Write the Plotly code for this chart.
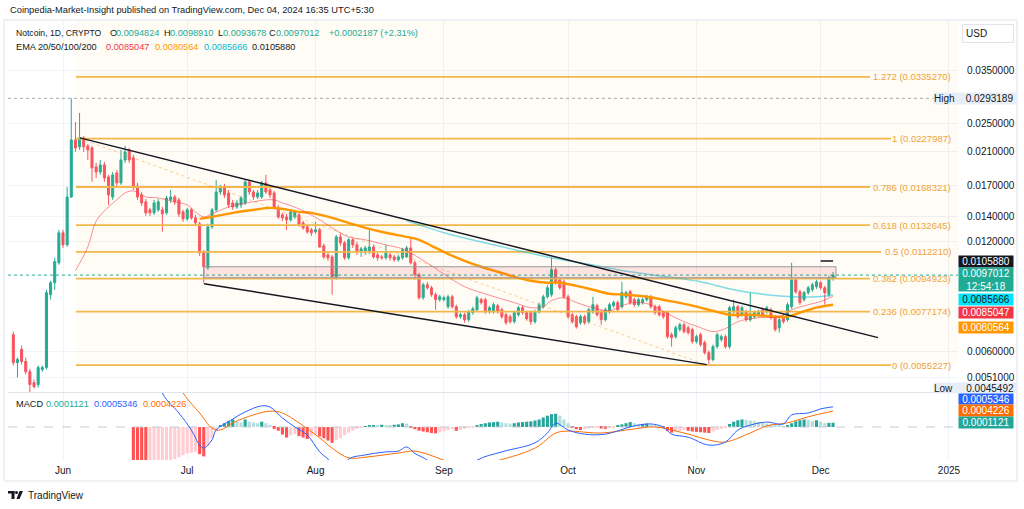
import math
import pandas as pd
import plotly.graph_objects as go

# ---------------- DATA ----------------
candle_start = "2024-05-20"
open_ = [0.00668,0.00561,0.00609,0.00565,0.00530,0.00495,0.00489,0.00537,0.00544,0.00858,
         0.00925,0.01048,0.01264,0.01172,0.01582,0.02260,0.02164,0.02289,0.02177,0.02150,
         0.01909,0.01850,0.01933,0.01793,0.01582,0.01838,0.01727,0.01994,0.02123,0.02020,
         0.01695,0.01602,0.01534,0.01459,0.01432,0.01459,0.01459,0.01432,0.01553,0.01582,
         0.01553,0.01441,0.01379,0.01459,0.01388,0.01337,0.01122,0.01016,0.01312,0.01459,
         0.01632,0.01685,0.01622,0.01524,0.01486,0.01505,0.01524,0.01738,0.01632,0.01582,
         0.01582,0.01727,0.01653,0.01622,0.01477,0.01414,0.01396,0.01371,0.01396,0.01414,
         0.01345,0.01312,0.01288,0.01272,0.01288,0.01165,0.01101,0.01087,0.00960,0.01232,
         0.01187,0.01081,0.01210,0.01172,0.01122,0.01122,0.01122,0.01157,0.01101,0.01087,
         0.01081,0.01101,0.01087,0.01068,0.01081,0.01087,0.01150,0.01048,0.00972,0.00842,
         0.00913,0.00896,0.00858,0.00832,0.00832,0.00796,0.00847,0.00796,0.00748,0.00757,
         0.00734,0.00767,0.00781,0.00832,0.00832,0.00771,0.00771,0.00801,0.00781,0.00757,
         0.00748,0.00725,0.00757,0.00791,0.00767,0.00767,0.00725,0.00771,0.00796,0.00847,
         0.00858,0.01003,0.00942,0.00930,0.00847,0.00757,0.00748,0.00720,0.00748,0.00725,
         0.00771,0.00801,0.00771,0.00734,0.00771,0.00801,0.00817,0.00796,0.00847,0.00874,
         0.00832,0.00806,0.00817,0.00832,0.00847,0.00796,0.00796,0.00767,0.00767,0.00668,
         0.00660,0.00690,0.00711,0.00698,0.00690,0.00640,0.00668,0.00636,0.00597,0.00572,
         0.00620,0.00648,0.00660,0.00620,0.00771,0.00796,0.00757,0.00771,0.00734,0.00748,
         0.00757,0.00781,0.00771,0.00781,0.00748,0.00698,0.00748,0.00734,0.00796,0.00942,
         0.00874,0.00832,0.00869,0.00885,0.00902,0.00925,0.00896,0.00858,0.0094824]
high = [0.00681,0.00579,0.00624,0.00579,0.00540,0.00505,0.00551,0.00551,0.00885,0.00936,
        0.01081,0.01288,0.01288,0.01685,0.0293189,0.02529,0.02675,0.02317,0.02204,0.02177,
        0.01957,0.01994,0.01969,0.01816,0.01850,0.01873,0.02123,0.02177,0.02150,0.02058,
        0.01727,0.01632,0.01562,0.01477,0.01553,0.01562,0.01486,0.01592,0.01653,0.01602,
        0.01572,0.01459,0.01477,0.01477,0.01414,0.01354,0.01136,0.01337,0.01477,0.01760,
        0.01706,0.01717,0.01653,0.01553,0.01553,0.01592,0.01760,0.01760,0.01653,0.01653,
        0.01749,0.01816,0.01674,0.01643,0.01505,0.01432,0.01423,0.01468,0.01459,0.01441,
        0.01362,0.01337,0.01304,0.01354,0.01304,0.01180,0.01115,0.01101,0.01248,0.01256,
        0.01202,0.01225,0.01225,0.01195,0.01157,0.01165,0.01288,0.01172,0.01115,0.01101,
        0.01172,0.01115,0.01101,0.01101,0.01150,0.01165,0.01232,0.01061,0.00984,0.00925,
        0.00930,0.00907,0.00869,0.00858,0.00853,0.00858,0.00858,0.00806,0.00767,0.00767,
        0.00781,0.00796,0.00853,0.00842,0.00842,0.00801,0.00817,0.00811,0.00791,0.00767,
        0.00757,0.00776,0.00801,0.00801,0.00776,0.00776,0.00781,0.00817,0.00858,0.00913,
        0.01081,0.01016,0.00954,0.00942,0.00858,0.00767,0.00757,0.00757,0.00757,0.00791,
        0.00847,0.00811,0.00781,0.00791,0.00817,0.00827,0.00827,0.00930,0.00879,0.00885,
        0.00842,0.00842,0.00842,0.00858,0.00858,0.00806,0.00806,0.00776,0.00776,0.00677,
        0.00707,0.00720,0.00720,0.00707,0.00698,0.00668,0.00677,0.00644,0.00605,0.00628,
        0.00677,0.00668,0.00668,0.00801,0.00832,0.00806,0.00801,0.00781,0.00869,0.00776,
        0.00781,0.00791,0.00801,0.00791,0.00757,0.00743,0.00757,0.00817,0.01048,0.00954,
        0.00885,0.00879,0.00907,0.00925,0.00942,0.00936,0.00907,0.00966,0.0098910]
low = [0.00551,0.00511,0.00554,0.00521,0.0045492,0.00477,0.00480,0.00530,0.00537,0.00832,
       0.00885,0.01035,0.01150,0.01157,0.01572,0.02097,0.02123,0.02097,0.01994,0.01738,
       0.01782,0.01816,0.01738,0.01505,0.01553,0.01685,0.01706,0.01957,0.01957,0.01653,
       0.01553,0.01496,0.01405,0.01405,0.01414,0.01441,0.01272,0.01414,0.01524,0.01505,
       0.01396,0.01354,0.01362,0.01371,0.01321,0.01094,0.00925,0.01003,0.01296,0.01441,
       0.01602,0.01572,0.01477,0.01459,0.01468,0.01477,0.01505,0.01602,0.01553,0.01562,
       0.01562,0.01612,0.01572,0.01468,0.01379,0.01362,0.01288,0.01354,0.01379,0.01312,
       0.01288,0.01256,0.01240,0.01256,0.01150,0.01074,0.01061,0.00858,0.00942,0.01165,
       0.01068,0.01068,0.01150,0.01101,0.01087,0.01101,0.01108,0.01074,0.01061,0.01068,
       0.01068,0.01061,0.01055,0.01055,0.01068,0.01081,0.01035,0.00942,0.00832,0.00832,
       0.00885,0.00847,0.00781,0.00822,0.00822,0.00786,0.00786,0.00738,0.00738,0.00720,
       0.00725,0.00757,0.00771,0.00806,0.00762,0.00762,0.00762,0.00762,0.00738,0.00711,
       0.00716,0.00716,0.00748,0.00757,0.00729,0.00711,0.00716,0.00762,0.00786,0.00837,
       0.00847,0.00913,0.00885,0.00837,0.00738,0.00716,0.00694,0.00711,0.00711,0.00716,
       0.00762,0.00748,0.00711,0.00725,0.00762,0.00791,0.00771,0.00786,0.00837,0.00806,
       0.00796,0.00796,0.00806,0.00822,0.00786,0.00757,0.00748,0.00738,0.00652,0.00620,
       0.00652,0.00681,0.00673,0.00668,0.00632,0.00632,0.00620,0.00590,0.0055227,0.00565,
       0.00612,0.00640,0.00612,0.00612,0.00762,0.00738,0.00748,0.00725,0.00725,0.00738,
       0.00748,0.00748,0.00762,0.00734,0.00681,0.00677,0.00716,0.00725,0.00786,0.00863,
       0.00806,0.00822,0.00858,0.00874,0.00890,0.00885,0.00806,0.00847,0.0093678]
close = [0.00561,0.00572,0.00565,0.00530,0.00489,0.00483,0.00544,0.00544,0.00869,0.00925,
         0.01055,0.01264,0.01172,0.01582,0.02260,0.02150,0.02289,0.02164,0.02123,0.01897,
         0.01850,0.01933,0.01782,0.01602,0.01816,0.01727,0.01994,0.02097,0.01994,0.01685,
         0.01582,0.01524,0.01432,0.01432,0.01524,0.01534,0.01423,0.01572,0.01582,0.01534,
         0.01423,0.01379,0.01459,0.01388,0.01345,0.01115,0.01022,0.01312,0.01459,0.01632,
         0.01674,0.01602,0.01505,0.01486,0.01524,0.01572,0.01738,0.01632,0.01582,0.01622,
         0.01727,0.01632,0.01602,0.01486,0.01396,0.01388,0.01371,0.01441,0.01441,0.01329,
         0.01304,0.01272,0.01264,0.01288,0.01157,0.01087,0.01081,0.00960,0.01232,0.01187,
         0.01081,0.01210,0.01172,0.01122,0.01143,0.01150,0.01157,0.01087,0.01081,0.01081,
         0.01122,0.01081,0.01068,0.01087,0.01136,0.01150,0.01048,0.00972,0.00842,0.00913,
         0.00896,0.00858,0.00832,0.00847,0.00842,0.00847,0.00796,0.00748,0.00757,0.00734,
         0.00771,0.00786,0.00842,0.00817,0.00771,0.00791,0.00806,0.00771,0.00748,0.00720,
         0.00725,0.00767,0.00791,0.00767,0.00738,0.00725,0.00771,0.00806,0.00847,0.00896,
         0.01003,0.00925,0.00896,0.00847,0.00748,0.00725,0.00702,0.00748,0.00720,0.00781,
         0.00806,0.00757,0.00734,0.00781,0.00806,0.00817,0.00781,0.00869,0.00869,0.00817,
         0.00806,0.00832,0.00832,0.00847,0.00796,0.00767,0.00757,0.00748,0.00660,0.00656,
         0.00698,0.00711,0.00681,0.00677,0.00640,0.00660,0.00628,0.00597,0.00572,0.00620,
         0.00668,0.00660,0.00620,0.00791,0.00796,0.00748,0.00791,0.00734,0.00757,0.00767,
         0.00771,0.00757,0.00791,0.00743,0.00690,0.00734,0.00725,0.00806,0.00942,0.00874,
         0.00817,0.00869,0.00896,0.00913,0.00930,0.00896,0.00869,0.00954,0.0097012]
change_abs = 0.0002187
change_pct = 2.31

ema20_dates = ["2024-06-04","2024-06-07","2024-06-09","2024-06-12","2024-06-14","2024-06-16","2024-06-18",
               "2024-06-21","2024-06-24","2024-06-28","2024-07-01","2024-07-03","2024-07-05","2024-07-07",
               "2024-07-11","2024-07-14","2024-07-17","2024-07-20","2024-07-22","2024-07-24","2024-07-28",
               "2024-08-02","2024-08-05","2024-08-09","2024-08-13","2024-08-18","2024-08-22","2024-08-26",
               "2024-08-29","2024-09-02","2024-09-06","2024-09-10","2024-09-14","2024-09-18","2024-09-22",
               "2024-09-25","2024-09-27","2024-09-30","2024-10-03","2024-10-07","2024-10-11","2024-10-14",
               "2024-10-17","2024-10-21","2024-10-25","2024-10-29","2024-11-02","2024-11-05","2024-11-08",
               "2024-11-11","2024-11-16","2024-11-21","2024-11-24","2024-11-28","2024-12-01","2024-12-04"]
ema20_values = [0.00997,0.01157,0.0136,0.01486,0.01553,0.01622,0.01643,0.01582,0.01572,0.01534,
                0.01505,0.01441,0.01396,0.01423,0.01486,0.01515,0.01534,0.01553,0.01553,0.01524,0.01468,
                0.01371,0.01304,0.01232,0.01210,0.01172,0.01143,0.01081,0.01029,
                0.00960,0.00902,0.00869,0.00842,0.00817,0.00791,0.00796,0.00827,0.00842,
                0.00817,0.00791,0.00776,0.00801,0.00817,0.00806,0.00762,0.00725,
                0.00698,0.00681,0.00694,0.00725,0.00743,0.00748,0.00781,0.00806,
                0.00822,0.0085047]
ema50_dates = ["2024-07-04","2024-07-07","2024-07-12","2024-07-17","2024-07-21","2024-07-24","2024-07-28",
               "2024-07-31","2024-08-05","2024-08-09","2024-08-13","2024-08-18","2024-08-23","2024-08-26",
               "2024-08-29","2024-09-02","2024-09-06","2024-09-10","2024-09-14","2024-09-18","2024-09-22",
               "2024-09-26","2024-09-29","2024-10-03","2024-10-07","2024-10-11","2024-10-15","2024-10-20",
               "2024-10-25","2024-10-30","2024-11-03","2024-11-06","2024-11-09","2024-11-14","2024-11-20",
               "2024-11-23","2024-11-26","2024-11-30","2024-12-04"]
ema50_values = [0.01379,0.01396,0.01432,0.01459,0.01477,0.01468,0.01441,0.01432,0.01388,0.01345,0.01304,
                0.01264,0.01232,0.01210,0.01165,0.01108,0.01061,0.01022,0.009905,0.00960,0.00936,0.00925,
                0.00925,0.00907,0.00885,0.00863,0.00858,0.00847,0.00827,0.00806,0.00786,0.00771,0.00757,
                0.00757,0.00748,0.00748,0.00767,0.00791,0.0080564]
ema100_dates = ["2024-08-23","2024-08-26","2024-09-02","2024-09-14","2024-09-26","2024-10-08","2024-10-16",
                "2024-10-25","2024-11-02","2024-11-10","2024-11-18","2024-11-24","2024-11-30","2024-12-04"]
ema100_values = [0.01362,0.01329,0.01256,0.01165,0.01087,0.01029,0.009905,0.00960,0.00930,0.00885,
                 0.00858,0.00847,0.00847,0.0085666]
ema200_dates = ["2024-12-01","2024-12-02","2024-12-03","2024-12-04"]
ema200_values = [0.01060,0.01059,0.01059,0.0105880]

fib_names = ["0", "0.236", "0.382", "0.5", "0.618", "0.786", "1", "1.272"]
fib_values = [0.0055227, 0.0077174, 0.0094923, 0.0112210, 0.0132645, 0.0168321, 0.0227987, 0.0335270]

zone_dates = ["2024-07-05 01:00", "2024-12-04 17:00"]
zone_prices = [0.00954, 0.01022]
channel_upper_dates = ["2024-06-05 02:00", "2024-12-14 21:00"]
channel_upper_prices = [0.02289, 0.00656]
channel_lower_dates = ["2024-07-05 01:00", "2024-11-03 12:00"]
channel_lower_prices = [0.00919, 0.00554]
fib_trend_dates = ["2024-06-05 02:00", "2024-11-03 12:00"]
fib_trend_prices = [0.0227987, 0.0055227]

all_time_high = 0.0293189
all_time_low = 0.0045492
price_ticks = [0.035, 0.025, 0.021, 0.017, 0.014, 0.012, 0.006, 0.0051]

hist_start = "2024-06-18"
macd_hist = [-0.0011,-0.0012,-0.00122,-0.00125,
             -0.0012,-0.00115,-0.0011,-0.00105,-0.001,-0.00095,
             -0.00085,-0.0008,-0.00075,-0.0007,-0.00068,-0.00066,
             -0.00072,-0.00078,
             -0.0005,-0.0003,-0.0001,
             0.00005,0.0001,0.00016,0.0002,0.00015,0.00012,0.0002,0.00014,0.00012,0.0001,0.00014,0.0001,0.00005,
             -0.00005,-0.0001,-0.0002,-0.00028,-0.00022,-0.00018,-0.00024,-0.00028,-0.00032,-0.00025,-0.0002,
             -0.00025,-0.0003,-0.00036,-0.00042,-0.00035,-0.0003,-0.00022,-0.00015,-0.0001,-0.00005,-0.00003,
             0.00002,0.00004,0.00005,0.00004,0.00006,0.00005,0.00004,0.00006,0.00007,0.0001,0.00009,
             -0.00002,-0.00006,-0.0001,-0.00012,-0.00014,-0.00016,-0.00017,-0.00014,-0.00011,-0.00008,-0.00006,
             -0.0001,-0.00008,-0.00005,-0.00003,-0.00001,
             0.00005,0.00008,0.0001,0.00012,0.00013,0.00014,
             0.00012,0.0001,0.00009,
             0.0001,0.00012,0.00013,0.00014,
             0.00015,0.00017,0.0002,0.00025,0.0003,0.00034,0.00035,
             0.0003,0.0002,0.0001,
             -0.00003,-0.00006,-0.00008,-0.00006,-0.00004,-0.00003,
             -0.00002,-0.00004,-0.00005,-0.00003,-0.00001,
             0.00003,0.00007,0.0001,0.00013,0.0001,
             0.00007,0.00008,0.00009,0.00005,0.00003,0.00001,-0.00003,
             -0.0001,-0.00015,
             -0.00012,-0.0001,-0.00008,
             -0.0001,-0.00012,-0.00013,-0.00014,-0.00015,-0.00016,
             -0.00012,-0.00008,-0.00005,-0.00002,
             0.00008,0.00014,0.00018,0.0002,
             0.00019,0.00017,0.00015,0.00013,0.00011,0.00009,0.00007,0.00005,0.00003,0.00001,
             0.00005,0.0001,0.00015,0.00018,0.0002,0.00019,
             0.00016,0.00018,0.00014,0.0001,0.00011,0.0001121]
macd_dates = ["2024-06-18","2024-06-25","2024-06-29","2024-07-02","2024-07-04","2024-07-05","2024-07-07",
              "2024-07-08","2024-07-12","2024-07-15","2024-07-19","2024-07-21","2024-07-24","2024-07-27",
              "2024-07-30","2024-08-02","2024-08-04","2024-08-06","2024-08-08","2024-08-09","2024-08-13",
              "2024-08-18","2024-08-21","2024-08-23","2024-08-25","2024-08-28","2024-08-31","2024-09-05",
              "2024-09-09","2024-09-15","2024-09-23","2024-09-26","2024-09-28","2024-10-01","2024-10-05",
              "2024-10-10","2024-10-17","2024-10-21","2024-10-24","2024-10-26","2024-10-30","2024-11-04",
              "2024-11-08","2024-11-11","2024-11-14","2024-11-18","2024-11-22","2024-11-24","2024-11-28",
              "2024-12-01","2024-12-04"]
macd_values = [0.0035,0.0009,0.00037,-0.00008,-0.00048,-0.00056,-0.00034,
               -0.00008,0.00021,0.0004,0.00056,0.00053,0.00024,0.0,
               -0.00021,-0.00066,-0.00085,-0.0011,-0.0011,-0.00085,-0.00074,
               -0.00066,-0.00064,-0.00053,-0.0007,-0.00088,-0.0012,-0.0013,
               -0.00088,-0.00066,-0.00042,-0.00016,0.0001,-0.00008,-0.00019,
               -0.00019,0.00003,0.00008,0.0,-0.00019,-0.00027,-0.00048,
               -0.0004,-0.00008,0.00005,0.00013,0.00008,0.00032,0.00037,
               0.00048,0.0005346]
signal_dates = ["2024-06-18","2024-06-22","2024-06-30","2024-07-04","2024-07-07","2024-07-09","2024-07-12",
                "2024-07-17","2024-07-21","2024-07-24","2024-07-28","2024-08-02","2024-08-05","2024-08-09",
                "2024-08-13","2024-08-21","2024-08-25","2024-09-01","2024-09-06","2024-09-12","2024-09-23",
                "2024-09-28","2024-10-01","2024-10-09","2024-10-17","2024-10-22","2024-10-29","2024-11-05",
                "2024-11-08","2024-11-14","2024-11-18","2024-11-23","2024-11-28","2024-12-04"]
signal_values = [0.0042,0.0025,0.0009,0.00037,-0.00003,-0.00008,0.00011,
                 0.00032,0.00042,0.00037,0.00011,-0.00029,-0.00056,-0.00082,
                 -0.0008,-0.00069,-0.00064,-0.00088,-0.0011,-0.00095,-0.00056,
                 -0.00016,-0.00011,-0.00016,-0.00005,0.0,-0.00016,-0.00037,
                 -0.0004,-0.00016,0.00003,0.00011,0.00027,0.0004226]

month_ticks = ["2024-06-01","2024-07-01","2024-08-01","2024-09-01","2024-10-01","2024-11-01","2024-12-01","2025-01-01"]
month_labels = ["Jun","Jul","Aug","Sep","Oct","Nov","Dec","2025"]

# ---------------- LAYOUT HELPERS ----------------
W, H = 1024, 509
ML, MR, MT, MB = 8, 66, 21, 49
PW, PH = W - ML - MR, H - MT - MB
def px(x):
    return (x - ML) / PW
def py(y):
    return (H - MB - y) / PH

FONT = "Liberation Sans, Arial, sans-serif"
DARK = "#131722"
GREEN = "#22ab94"
RED = "#f7525f"
FIB_LINE = "#f2b84b"
FIB_TEXT = "#eea43c"

x_left = "2024-05-18 17:10"
x_right = "2025-01-03 04:20"
fib_x0 = "2024-06-04 03:00"
fib_end = {"1.272": "2024-12-12 22:00", "0.786": "2024-12-12 22:00", "0.618": "2024-12-12 22:00",
           "0.382": "2024-12-12 22:00", "0.236": "2024-12-12 22:00", "0.5": "2024-12-15 14:00",
           "1": "2024-12-18 00:00", "0": "2024-12-18 00:00"}

dates = pd.date_range(candle_start, periods=len(close), freq="D")
hist_dates = pd.date_range(hist_start, periods=len(macd_hist), freq="D")

fig = go.Figure()
P = dict(xaxis="x", yaxis="y", hoverinfo="skip", showlegend=False)
M = dict(xaxis="x2", yaxis="y2", hoverinfo="skip", showlegend=False)

fig.add_trace(go.Scatter(x=[fib_x0, x_right, x_right, fib_x0],
                         y=[fib_values[0], fib_values[0], 0.08, 0.08],
                         fill="toself", fillcolor="rgba(255,183,77,0.055)", mode="lines",
                         line=dict(width=0), **P))
for name, val in zip(fib_names, fib_values):
    fig.add_trace(go.Scatter(x=[fib_x0, fib_end[name]], y=[val, val], mode="lines",
                             line=dict(color=FIB_LINE, width=1.8), **P))
fig.add_trace(go.Scatter(x=fib_trend_dates, y=fib_trend_prices, mode="lines",
                         line=dict(color="rgba(242,170,60,0.55)", width=1, dash="dot"), **P))

fig.add_trace(go.Scatter(x=[x_left, x_right], y=[all_time_high] * 2, mode="lines",
                         line=dict(color="#a3a6af", width=1, dash="dot"), **P))
fig.add_trace(go.Scatter(x=[x_left, x_right], y=[close[-1]] * 2, mode="lines",
                         line=dict(color=GREEN, width=1, dash="dot"), **P))

fig.add_trace(go.Scatter(x=ema100_dates, y=ema100_values, mode="lines", line_shape="spline",
                         line=dict(color="rgba(0,188,212,0.5)", width=1.5), **P))
fig.add_trace(go.Scatter(x=ema50_dates, y=ema50_values, mode="lines", line_shape="spline",
                         line=dict(color="#ff9800", width=2.4), **P))
fig.add_trace(go.Scatter(x=ema20_dates, y=ema20_values, mode="lines", line_shape="spline",
                         line=dict(color="rgba(242,54,69,0.55)", width=1), **P))
fig.add_trace(go.Scatter(x=ema200_dates, y=ema200_values, mode="lines",
                         line=dict(color=DARK, width=1.5), **P))

fig.add_trace(go.Candlestick(x=dates, open=open_, high=high, low=low, close=close,
                             increasing=dict(line=dict(color=GREEN, width=1), fillcolor=GREEN),
                             decreasing=dict(line=dict(color=RED, width=1), fillcolor=RED),
                             whiskerwidth=0, **P))

fig.add_trace(go.Scatter(x=[zone_dates[0], zone_dates[1], zone_dates[1], zone_dates[0], zone_dates[0]],
                         y=[zone_prices[0], zone_prices[0], zone_prices[1], zone_prices[1], zone_prices[0]],
                         fill="toself", fillcolor="rgba(242,54,69,0.12)", mode="lines",
                         line=dict(color="#9598a1", width=1), **P))
fig.add_trace(go.Scatter(x=channel_upper_dates, y=channel_upper_prices, mode="lines",
                         line=dict(color=DARK, width=1.5), **P))
fig.add_trace(go.Scatter(x=channel_lower_dates, y=channel_lower_prices, mode="lines",
                         line=dict(color=DARK, width=1.5), **P))

fig.add_trace(go.Scatter(x=[x_left, x_right], y=[0, 0], mode="lines",
                         line=dict(color="#c8cad0", width=1, dash="dash"), **M))
colors = []
prev = 0.0
for v in macd_hist:
    if v >= 0:
        colors.append("#26a69a" if v >= prev else "#b2dfdb")
    else:
        colors.append("#ff5252" if v < prev else "#ffcdd2")
    prev = v
fig.add_trace(go.Bar(x=hist_dates, y=macd_hist, marker=dict(color=colors, line=dict(width=0)), **M))
fig.add_trace(go.Scatter(x=signal_dates, y=signal_values, mode="lines", line_shape="spline",
                         line=dict(color="#ff6d00", width=1), **M))
fig.add_trace(go.Scatter(x=macd_dates, y=macd_values, mode="lines", line_shape="spline",
                         line=dict(color="#2962ff", width=1), **M))

# ---------------- ANNOTATIONS ----------------
ann = []
def text(t, x, y, size=9.2, color=DARK, xanchor="left", **kw):
    d = dict(text=t, x=px(x), y=py(y), xref="paper", yref="paper", showarrow=False,
             font=dict(family=FONT, size=size, color=color), xanchor=xanchor, yanchor="middle")
    d.update(kw)
    ann.append(d)

text("Coinpedia-Market-Insight published on TradingView.com, Dec 04, 2024 16:35 UTC+5:30", 8, 10, size=9.3)
text("Notcoin, 1D, CRYPTO", 14, 33, size=8.6)
text("O", 108, 33); text(f"{open_[-1]:.7f}", 114, 33, color=GREEN)
text("H", 162, 33); text(f"{high[-1]:.7f}", 168, 33, color=GREEN)
text("L", 216, 33); text(f"{low[-1]:.7f}", 221, 33, color=GREEN)
text("C", 267, 33); text(f"{close[-1]:.7f}", 274, 33, color=GREEN)
text(f"+{change_abs:.7f} (+{change_pct:.2f}%)", 327, 33, color=GREEN)
text("EMA 20/50/100/200", 14, 47)
text(f"{ema20_values[-1]:.7f}", 104, 47, color="#f23645")
text(f"{ema50_values[-1]:.7f}", 153, 47, color="#ff9800")
text(f"{ema100_values[-1]:.7f}", 202, 47, color="#00bcd4")
text(f"{ema200_values[-1]:.7f}", 250, 47, color=DARK)
text("MACD", 14, 404)
text(f"{macd_hist[-1]:.7f}", 44, 404, color=GREEN)
text(f"{macd_values[-1]:.7f}", 92, 404, color="#2962ff")
text(f"{signal_values[-1]:.7f}", 141, 404, color="#ff6d00")

for name, val in zip(fib_names, fib_values):
    ann.append(dict(text=f"{name} ({val:.7f})", x=px(953), y=math.log10(val), xref="paper", yref="y",
                    showarrow=False, font=dict(family=FONT, size=9.5, color=FIB_TEXT),
                    xanchor="right", yanchor="middle"))

def box(t, y, bg, fg="#ffffff", h=11, x=986, w=54):
    text(t, x, y, size=10, color=fg, xanchor="center", bgcolor=bg, width=w, height=h,
         borderpad=0, align="center")

text("USD", 962, 34, size=10, bgcolor="#ffffff", bordercolor="#e0e3eb", borderwidth=1,
     borderpad=3, width=44, height=11, align="left")
text("High\u00a0\u00a0\u00a0\u00a0" + f"{all_time_high:.7f}", 933, 98, size=10, bgcolor="#e8eef7",
     width=82, height=11, borderpad=0, align="left")
box(f"{ema200_values[-1]:.7f}", 261, "#131722")
box(f"{close[-1]:.7f}<br>12:54:18", 279.5, GREEN, h=23)
box(f"{ema100_values[-1]:.7f}", 300, "#00e5ff", fg=DARK)
box(f"{ema20_values[-1]:.7f}", 312, "#f23645")
box(f"{ema50_values[-1]:.7f}", 327, "#ff9800")
text("Low\u00a0\u00a0\u00a0\u00a0\u00a0" + f"{all_time_low:.7f}", 933, 387.5, size=10, bgcolor="#e8eef7",
     width=82, height=10, borderpad=0, align="left")
box(f"{macd_values[-1]:.7f}", 398.5, "#2962ff", h=10)
box(f"{signal_values[-1]:.7f}", 410, "#ff6d00")
box(f"{macd_hist[-1]:.7f}", 422.5, "#26a69a")

text("TradingView", 26, 495, size=10)

# ---------------- SHAPES ----------------
shapes = [
    dict(type="rect", xref="paper", yref="paper", x0=px(4), x1=px(1017), y0=py(481), y1=py(20),
         line=dict(color="#e0e3eb", width=1), layer="below"),
    dict(type="line", xref="paper", yref="paper", x0=px(8), x1=px(1017), y0=py(392.5), y1=py(392.5),
         line=dict(color="#e0e3eb", width=1)),
    dict(type="rect", xref="paper", yref="paper", x0=px(8), x1=px(14.5), y0=py(493.5), y1=py(491),
         fillcolor=DARK, line=dict(width=0)),
    dict(type="rect", xref="paper", yref="paper", x0=px(11.5), x1=px(14.5), y0=py(499), y1=py(491),
         fillcolor=DARK, line=dict(width=0)),
    dict(type="circle", xref="paper", yref="paper", x0=px(15), x1=px(18), y0=py(494), y1=py(491),
         fillcolor=DARK, line=dict(width=0)),
    dict(type="path", xref="paper", yref="paper",
         path=f"M {px(19.5)} {py(491)} L {px(23)} {py(491)} L {px(19.5)} {py(499)} L {px(16.5)} {py(499)} Z",
         fillcolor=DARK, line=dict(width=0)),
]

fig.update_layout(
    width=W, height=H, margin=dict(l=ML, r=MR, t=MT, b=MB),
    paper_bgcolor="#ffffff", plot_bgcolor="#ffffff", showlegend=False, bargap=0.25,
    font=dict(family=FONT, size=10, color=DARK),
    xaxis=dict(domain=[0, 1], anchor="y", range=[x_left, x_right], type="date",
               showticklabels=False, showgrid=True, gridcolor="#f0f3fa", tickvals=month_ticks,
               zeroline=False, showline=False, rangeslider=dict(visible=False), fixedrange=True),
    xaxis2=dict(domain=[0, 1], anchor="y2", matches="x", range=[x_left, x_right], type="date",
                tickvals=month_ticks, ticktext=month_labels, showgrid=True, gridcolor="#f0f3fa",
                ticks="", ticklabelstandoff=3, tickfont=dict(size=10, color=DARK),
                zeroline=False, showline=False),
    yaxis=dict(domain=[py(392), 1], anchor="x", type="log", range=[-2.3309, -1.3227], side="right",
               tickvals=price_ticks, ticktext=[f"{v:.7f}" for v in price_ticks],
               showgrid=True, gridcolor="#f0f3fa", ticks="", ticklabelstandoff=8,
               tickfont=dict(size=10, color=DARK), zeroline=False, showline=False),
    yaxis2=dict(domain=[0, py(393)], anchor="x2", range=[-0.000875, 0.000901], side="right",
                showticklabels=False, showgrid=False, zeroline=False, showline=False),
    annotations=ann, shapes=shapes,
)

fig.write_html("out.html", config={"displayModeBar": False},
               post_script="document.body.style.margin='0px';document.body.style.overflow='hidden';")
